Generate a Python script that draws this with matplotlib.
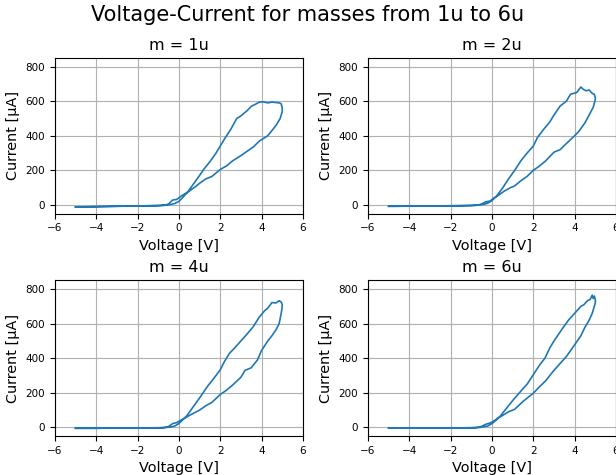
import matplotlib
matplotlib.use("Agg")
import matplotlib.pyplot as plt
import numpy as np

# sweep -5 -> 5 (lower branch), then 5 -> -5 (upper branch)
V_1U = [-5, -4.5, -4, -3.5, -3, -2.5, -2, -1.5, -1, -0.7, -0.5, -0.3, -0.1, 0.1, 0.3, 0.5, 0.8, 1.0, 1.3, 1.6, 2.0, 2.3, 2.6, 3.0, 3.3, 3.6, 3.9, 4.1, 4.3, 4.5, 4.7, 4.9, 5.0,
        5.0, 4.95, 4.85, 4.7, 4.5, 4.3, 4.1, 3.9, 3.7, 3.5, 3.3, 3.0, 2.8, 2.5, 2.2, 2.0, 1.8, 1.5, 1.2, 1.0, 0.7, 0.4, 0.2, 0.0, -0.2, -0.4, -0.7, -1, -2, -3, -4, -5]
I_1U = [-12, -11, -10, -9, -8, -7, -6, -5, -4, -2, 5, 28, 32, 50, 65, 80, 105, 125, 150, 165, 205, 225, 255, 285, 310, 335, 370, 385, 400, 430, 460, 500, 540,
        560, 585, 590, 592, 595, 590, 596, 595, 582, 570, 545, 515, 500, 435, 380, 340, 300, 250, 205, 170, 120, 70, 45, 20, 8, 2, -2, -4, -6, -8, -10, -12]

V_2U = [-5, -4.5, -4, -3.5, -3, -2.5, -2, -1.5, -1, -0.7, -0.5, -0.3, -0.1, 0.1, 0.3, 0.6, 0.9, 1.1, 1.4, 1.7, 2.0, 2.3, 2.6, 3.0, 3.3, 3.6, 4.0, 4.2, 4.5, 4.7, 4.9, 5.0,
        5.0, 4.95, 4.85, 4.7, 4.55, 4.4, 4.3, 4.1, 3.8, 3.6, 3.3, 3.0, 2.8, 2.5, 2.2, 2.0, 1.7, 1.4, 1.1, 0.8, 0.5, 0.2, 0.0, -0.2, -0.4, -0.7, -1, -2, -3, -4, -5]
I_2U = [-8, -8, -7, -7, -6, -6, -5, -5, -4, -2, 5, 18, 22, 40, 55, 80, 100, 110, 140, 165, 200, 225, 255, 305, 320, 355, 400, 425, 475, 520, 565, 610,
        620, 640, 645, 665, 660, 670, 682, 650, 640, 600, 572, 520, 480, 437, 390, 340, 300, 255, 200, 150, 95, 48, 25, 10, 3, -1, -3, -5, -6, -7, -8]

V_4U = [-5, -4.5, -4, -3.5, -3, -2.5, -2, -1.5, -1, -0.7, -0.5, -0.3, -0.1, 0.1, 0.3, 0.6, 1.0, 1.3, 1.6, 2.0, 2.3, 2.6, 3.0, 3.2, 3.5, 3.8, 4.0, 4.3, 4.5, 4.7, 4.85, 4.95, 5.0,
        5.0, 4.95, 4.85, 4.7, 4.5, 4.3, 4.15, 3.9, 3.6, 3.3, 3.0, 2.7, 2.45, 2.2, 2.0, 1.7, 1.4, 1.0, 0.7, 0.4, 0.2, 0.0, -0.2, -0.4, -0.7, -1, -2, -3, -4, -5]
I_4U = [-5, -5, -5, -4, -4, -4, -3, -3, -3, -1, 5, 22, 28, 42, 55, 75, 100, 125, 145, 190, 215, 245, 290, 330, 345, 390, 445, 500, 530, 565, 600, 660, 700,
        710, 725, 733, 720, 722, 690, 675, 640, 583, 540, 500, 460, 429, 380, 333, 285, 240, 170, 120, 70, 45, 22, 8, 2, -1, -2, -3, -4, -5, -5]

V_6U = [-5, -4.5, -4, -3.5, -3, -2.5, -2, -1.5, -1, -0.7, -0.5, -0.3, -0.1, 0.1, 0.3, 0.5, 0.8, 1.1, 1.5, 2.0, 2.3, 2.6, 3.0, 3.3, 3.6, 4.0, 4.3, 4.5, 4.7, 4.85, 4.95, 5.0,
        5.0, 4.95, 4.9, 4.85, 4.75, 4.65, 4.58, 4.45, 4.3, 4.0, 3.7, 3.4, 3.0, 2.8, 2.56, 2.3, 2.0, 1.7, 1.4, 1.0, 0.7, 0.4, 0.2, 0.0, -0.2, -0.5, -0.8, -1, -2, -3, -4, -5]
I_6U = [-4, -4, -4, -4, -3, -3, -3, -3, -2, 0, 6, 18, 25, 38, 55, 68, 90, 105, 150, 198, 235, 270, 330, 370, 410, 478, 530, 580, 620, 660, 700, 720,
        740, 760, 745, 765, 740, 735, 728, 710, 700, 660, 620, 570, 500, 460, 400, 360, 305, 250, 210, 155, 110, 65, 42, 22, 8, 1, -2, -2, -3, -3, -4, -4]

TITLES = ["m = 1u", "m = 2u", "m = 4u", "m = 6u"]
VOLTS = [V_1U, V_2U, V_4U, V_6U]
CURRS = [I_1U, I_2U, I_4U, I_6U]

fig, axes = plt.subplots(2, 2, figsize=(6.16, 4.75), dpi=100)
fig.subplots_adjust(left=0.089, right=1.0, top=0.878, bottom=0.082, wspace=0.262, hspace=0.43)
fig.suptitle("Voltage-Current for masses from 1u to 6u", fontsize=15, y=0.99)

for ax, title, v, c in zip(axes.flat, TITLES, VOLTS, CURRS):
    ax.plot(v, c, color="C0", linewidth=1.2)
    ax.set_xlim(-6, 6)
    ax.set_ylim(-50, 850)
    ax.set_xticks(np.arange(-6, 7, 2))
    ax.set_yticks([0, 200, 400, 600, 800])
    ax.grid(True)
    ax.set_title(title, fontsize=11.5)
    ax.set_xlabel("Voltage [V]", fontsize=10.4)
    ax.set_ylabel("Current [µA]", fontsize=10.4)
    ax.tick_params(axis="both", labelsize=7.5)

fig.savefig("out.png")
